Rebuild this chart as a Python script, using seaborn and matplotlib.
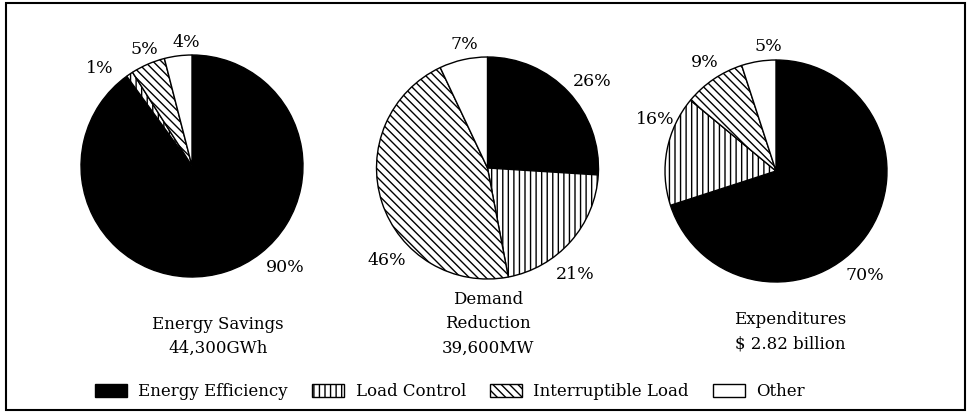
import seaborn as sns
import matplotlib.pyplot as plt
from matplotlib.patches import Patch, Rectangle

# Data
categories = ['Energy Efficiency', 'Load Control', 'Interruptible Load', 'Other']
energy_savings = [90, 1, 5, 4]
demand_reduction = [26, 21, 46, 7]
expenditures = [70, 16, 9, 5]
captions = ['Energy Savings\n44,300GWh', 'Demand\nReduction\n39,600MW', 'Expenditures\n$ 2.82 billion']

# Styles per category
face_colors = ['black', 'white', 'white', 'white']
hatches = ['', '|||', r'\\\\', '']

sns.set_style('white')
plt.rcParams['font.family'] = ['DejaVu Serif']
plt.rcParams['text.color'] = 'black'
plt.rcParams['hatch.linewidth'] = 1.0

W, H = 971, 413
fig = plt.figure(figsize=(W / 100, H / 100), dpi=100)

# pie layout in pixels: centre x, centre y, radius
pie_layout = [(192, 166, 111), (487.5, 168, 111), (776, 171, 111)]
# label offsets in radius units (one per wedge)
label_offsets = [
    [(0.84, -0.91), (-0.83, 0.88), (-0.43, 1.05), (-0.05, 1.11)],
    [(0.94, 0.78), (0.79, -0.96), (-0.91, -0.83), (-0.21, 1.11)],
    [(0.80, -0.94), (-1.09, 0.46), (-0.64, 0.98), (-0.07, 1.12)],
]
caption_pos = [(218, 336.5), (488, 324), (790, 331.5)]

lim = 1.4
for values, (cx, cy, r), offs, cap, (tx, ty) in zip(
        [energy_savings, demand_reduction, expenditures], pie_layout,
        label_offsets, captions, caption_pos):
    half = r * lim
    ax = fig.add_axes([(cx - half) / W, 1 - (cy + half) / H, 2 * half / W, 2 * half / H])
    wedges, texts = ax.pie(values, startangle=90, counterclock=False,
                           colors=face_colors, labels=[f'{v}%' for v in values],
                           labeldistance=1.15,
                           wedgeprops=dict(edgecolor='black', linewidth=1.0),
                           textprops=dict(fontsize=12.5, color='black'))
    for w, h in zip(wedges, hatches):
        w.set_hatch(h)
    for t, (dx, dy) in zip(texts, offs):
        t.set_position((dx, dy))
        t.set_ha('center')
        t.set_va('center')
    ax.set_xlim(-lim, lim)
    ax.set_ylim(-lim, lim)
    ax.set_aspect('equal')
    ax.axis('off')
    fig.text(tx / W, 1 - ty / H, cap, ha='center', va='center', fontsize=12,
             linespacing=1.55)

handles = [Patch(facecolor=fc, edgecolor='black', hatch=h, label=c)
           for fc, h, c in zip(face_colors, hatches, categories)]
fig.legend(handles=handles, loc='center', bbox_to_anchor=(450 / W, 1 - 392 / H),
           ncol=4, frameon=False, fontsize=12, handlelength=1.9, handleheight=0.8,
           handletextpad=0.7, columnspacing=1.45)

# outer frame
fig.patches.append(Rectangle((6 / W, 1 - 410 / H), 959 / W, 407 / H,
                             transform=fig.transFigure, fill=False,
                             edgecolor='black', linewidth=1.5))

fig.savefig('out.png', dpi=100)
